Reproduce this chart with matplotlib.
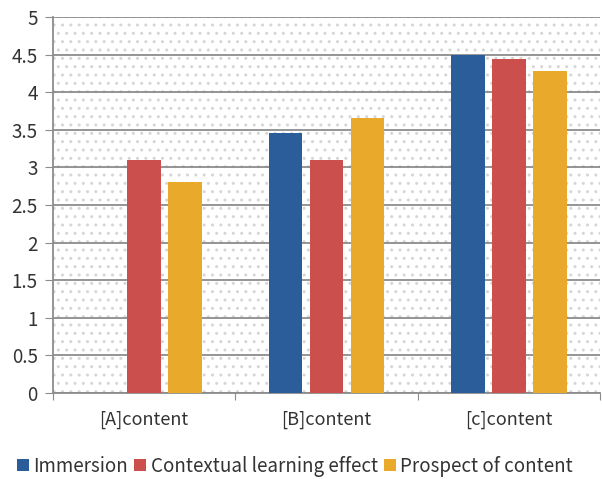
import matplotlib
matplotlib.use('Agg')
import matplotlib.pyplot as plt
import numpy as np
from matplotlib.patches import Rectangle

# Data
categories = ['[A]content', '[B]content', '[c]content']
series_names = ['Immersion', 'Contextual learning effect', 'Prospect of content']
immersion = [0, 3.46, 4.49]
contextual = [3.1, 3.1, 4.44]
prospect = [2.8, 3.66, 4.28]
colors = ['#2B5D9B', '#CB4F4D', '#E9AA2C']

plt.rcParams['font.family'] = ['Noto Sans CJK KR', 'DejaVu Sans']

fig = plt.figure(figsize=(6.02, 4.79), dpi=100)
ax = fig.add_axes([0.088, 0.1795, 0.909, 0.785])

# dotted plot background
bg = Rectangle((0, 0), 1, 1, transform=ax.transAxes, facecolor='white',
               edgecolor='#D6D6D6', hatch='..', linewidth=0, zorder=0)
ax.add_patch(bg)

x = np.arange(len(categories))
width = 0.185
step = 0.225
for i, (vals, name) in enumerate(zip([immersion, contextual, prospect], series_names)):
    ax.bar(x + (i - 1) * step, vals, width, color=colors[i], label=name, zorder=3)

ax.set_xlim(-0.5, 2.5)
ax.set_ylim(0, 5)
ax.set_yticks(np.arange(0, 5.01, 0.5))
ax.set_yticklabels(['0', '0.5', '1', '1.5', '2', '2.5', '3', '3.5', '4', '4.5', '5'])
ax.yaxis.grid(True, color='#8C8C8C', linewidth=1.3, zorder=1)
ax.set_axisbelow(False)

# category labels between boundary ticks
ax.set_xticks([-0.5, 0.5, 1.5, 2.5])
ax.set_xticklabels([])
ax.set_xticks(x, minor=True)
ax.set_xticklabels(categories, minor=True)
ax.tick_params(axis='x', which='minor', length=0, pad=13, labelsize=13, labelcolor='#333333')
ax.tick_params(axis='x', which='major', length=5, color='#8C8C8C')
ax.tick_params(axis='y', length=6, color='#8C8C8C', labelsize=13.5, labelcolor='#333333', pad=5)

for s in ['top', 'right']:
    ax.spines[s].set_visible(False)
for s in ['left', 'bottom']:
    ax.spines[s].set_color('#8C8C8C')
    ax.spines[s].set_linewidth(1.3)

fig.legend(loc='center', bbox_to_anchor=(0.49, 0.027), ncol=3, frameon=False,
           handlelength=0.65, handleheight=0.65, handletextpad=0.25, columnspacing=0.3,
           fontsize=13.5, labelcolor='#333333')

fig.savefig('out.png', dpi=100)
